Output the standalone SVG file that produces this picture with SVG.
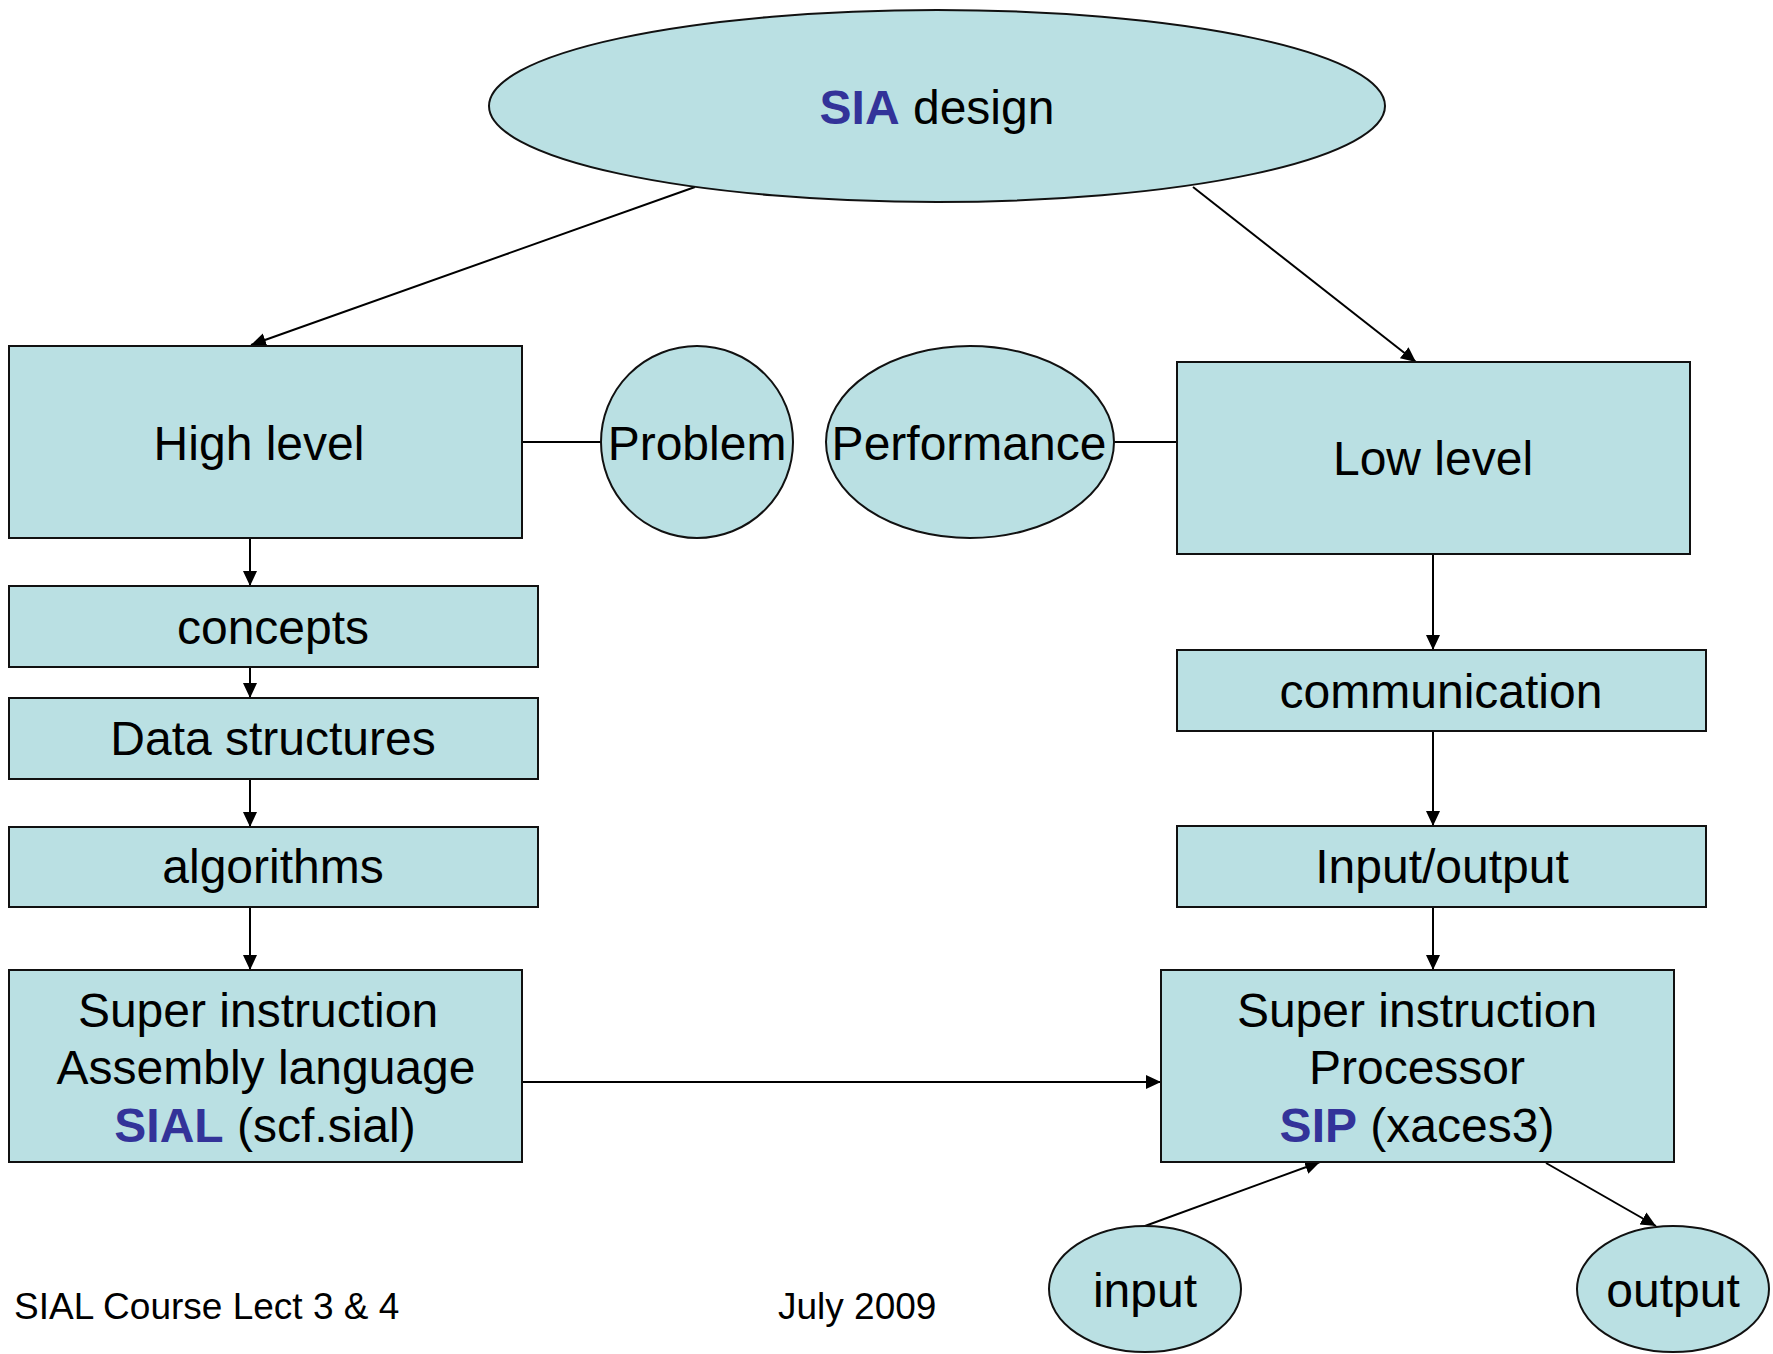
<svg xmlns="http://www.w3.org/2000/svg" width="1773" height="1354" viewBox="0 0 1773 1354">
<defs>
<marker id="ah" markerUnits="userSpaceOnUse" markerWidth="16" markerHeight="16" refX="15" refY="7" orient="auto">
<path d="M0,0 L15,7 L0,14 Z" fill="#000"/>
</marker>
<style>
.n{fill:#BAE0E3;stroke:#111;stroke-width:2}
.t{font-family:"Liberation Sans",Arial,sans-serif;font-size:48px;fill:#000;text-anchor:middle}
.b{fill:#333399;font-weight:bold}
.f{font-family:"Liberation Sans",Arial,sans-serif;font-size:37px;fill:#000}
.c{stroke:#000;stroke-width:2;fill:none}
.a{marker-end:url(#ah)}
</style>
</defs>
<rect width="1773" height="1354" fill="#fff"/>
<g id="connectors">
<line class="c a" x1="695" y1="187" x2="251" y2="345"/>
<line class="c a" x1="1193" y1="187" x2="1416" y2="362"/>
<line class="c" x1="522" y1="442" x2="601" y2="442"/>
<line class="c" x1="1114" y1="442" x2="1177" y2="442"/>
<line class="c a" x1="250" y1="538" x2="250" y2="586"/>
<line class="c a" x1="250" y1="667" x2="250" y2="698"/>
<line class="c a" x1="250" y1="779" x2="250" y2="827"/>
<line class="c a" x1="250" y1="907" x2="250" y2="970"/>
<line class="c a" x1="1433" y1="554" x2="1433" y2="650"/>
<line class="c a" x1="1433" y1="731" x2="1433" y2="826"/>
<line class="c a" x1="1433" y1="907" x2="1433" y2="970"/>
<line class="c a" x1="522" y1="1082" x2="1161" y2="1082"/>
<line class="c a" x1="1145" y1="1226" x2="1320" y2="1162"/>
<line class="c a" x1="1546" y1="1163" x2="1656" y2="1226"/>
</g>
<g id="sia-design">
<ellipse class="n" cx="937" cy="106" rx="448" ry="96"/>
<text class="t" x="937" y="124"><tspan class="b">SIA</tspan> design</text>
</g>
<g id="high-level">
<rect class="n" x="9" y="346" width="513" height="192"/>
<text class="t" x="259" y="460">High level</text>
</g>
<g id="problem">
<ellipse class="n" cx="697" cy="442" rx="96" ry="96"/>
<text class="t" x="697" y="460">Problem</text>
</g>
<g id="performance">
<ellipse class="n" cx="970" cy="442" rx="144" ry="96"/>
<text class="t" x="969" y="460">Performance</text>
</g>
<g id="low-level">
<rect class="n" x="1177" y="362" width="513" height="192"/>
<text class="t" x="1433" y="475">Low level</text>
</g>
<g id="concepts">
<rect class="n" x="9" y="586" width="529" height="81"/>
<text class="t" x="273" y="644">concepts</text>
</g>
<g id="data-structures">
<rect class="n" x="9" y="698" width="529" height="81"/>
<text class="t" x="273" y="755">Data structures</text>
</g>
<g id="algorithms">
<rect class="n" x="9" y="827" width="529" height="80"/>
<text class="t" x="273" y="883">algorithms</text>
</g>
<g id="sial">
<rect class="n" x="9" y="970" width="513" height="192"/>
<text class="t" x="258" y="1027">Super instruction</text>
<text class="t" x="266" y="1084">Assembly language</text>
<text class="t" x="265" y="1142"><tspan class="b">SIAL</tspan> (scf.sial)</text>
</g>
<g id="communication">
<rect class="n" x="1177" y="650" width="529" height="81"/>
<text class="t" x="1441" y="708">communication</text>
</g>
<g id="input-output">
<rect class="n" x="1177" y="826" width="529" height="81"/>
<text class="t" x="1442" y="883">Input/output</text>
</g>
<g id="sip">
<rect class="n" x="1161" y="970" width="513" height="192"/>
<text class="t" x="1417" y="1027">Super instruction</text>
<text class="t" x="1417" y="1084">Processor</text>
<text class="t" x="1417" y="1142"><tspan class="b">SIP</tspan> (xaces3)</text>
</g>
<g id="input">
<ellipse class="n" cx="1145" cy="1289" rx="96" ry="63"/>
<text class="t" x="1145" y="1307">input</text>
</g>
<g id="output">
<ellipse class="n" cx="1673" cy="1289" rx="96" ry="63"/>
<text class="t" x="1673" y="1307">output</text>
</g>
<g id="footer">
<text class="f" x="14" y="1319">SIAL Course Lect 3 &amp; 4</text>
<text class="f" x="778" y="1319">July 2009</text>
</g>
</svg>
